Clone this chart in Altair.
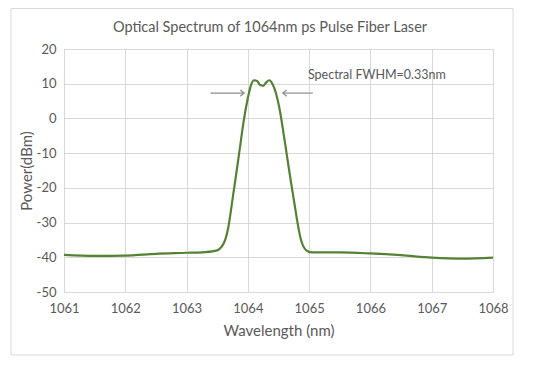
import altair as alt
import pandas as pd

wavelength = [1061.0, 1061.5, 1062.0, 1062.5, 1063.0, 1063.3, 1063.5, 1063.57, 1063.63, 1063.68,
              1063.72, 1063.76, 1063.81, 1063.87, 1063.93, 1063.99, 1064.05, 1064.10, 1064.15,
              1064.20, 1064.25, 1064.30, 1064.35, 1064.40, 1064.46, 1064.52, 1064.58, 1064.64,
              1064.70, 1064.76, 1064.81, 1064.86, 1064.91, 1064.97, 1065.05, 1065.5, 1066.0,
              1066.5, 1067.0, 1067.5, 1068.0]
power = [-39.3, -39.6, -39.5, -39.0, -38.7, -38.5, -38.0, -37.0, -35.0, -31.5,
         -27.0, -22.0, -16.0, -8.5, -1.0, 5.0, 9.5, 11.0, 10.8,
         9.6, 9.4, 10.4, 11.0, 10.0, 7.2, 2.5, -4.0, -11.0,
         -18.0, -24.5, -30.0, -34.5, -37.0, -38.2, -38.6, -38.6, -38.9,
         -39.4, -40.1, -40.4, -40.1]

x_ticks = [1061, 1062, 1063, 1064, 1065, 1066, 1067, 1068]
y_ticks = [-50, -40, -30, -20, -10, 0, 10, 20]

arrow_x = [1063.39, 1065.06]
arrow_x2 = [1063.94, 1064.57]
arrow_y = [7.3, 7.3]
arrow_angle = [0, 180]

label_text = ["Spectral FWHM=0.33nm"]
label_x = [1064.98]
label_y = [12.4]

title_text = ["Optical Spectrum of 1064nm ps Pulse Fiber Laser"]

FONT = "Lato"
GRAY = "#595959"

df = pd.DataFrame({"w": wavelength, "p": power})
arrows = pd.DataFrame({"x": arrow_x, "x2": arrow_x2, "y": arrow_y, "a": arrow_angle})
labels = pd.DataFrame({"t": label_text, "x": label_x, "y": label_y})
titles = pd.DataFrame({"t": title_text})

xs = alt.Scale(domain=[1061, 1068], nice=False, zero=False)
ys = alt.Scale(domain=[-50, 20], nice=False, zero=False)

border = alt.Chart(pd.DataFrame({"k": [0]})).mark_rect(
    fillOpacity=0, stroke="#d9d9d9", strokeWidth=1, clip=False
).encode(
    x=alt.value(-53), x2=alt.value(449), y=alt.value(-40.5), y2=alt.value(306)
)

title = alt.Chart(titles).mark_text(
    align="center", baseline="middle", font=FONT, fontSize=14.5, color=GRAY
).encode(x=alt.value(206), y=alt.value(-21), text="t:N")

common_axis = dict(grid=True, gridColor="#d9d9d9", ticks=False, tickCount=12,
                   labelFont=FONT, labelFontSize=13, labelColor=GRAY,
                   labelOverlap=False, labelFlush=False,
                   labelExpr="datum.value + ''",
                   titleFont=FONT, titleFontSize=15, titleColor=GRAY,
                   titleFontWeight="normal")

line = alt.Chart(df).mark_line(
    color="#548235", strokeWidth=2.2, interpolate="monotone"
).encode(
    x=alt.X("w:Q", scale=xs,
            axis=alt.Axis(values=x_ticks, title="Wavelength (nm)", labelPadding=10,
                          domainColor="#d9d9d9", titlePadding=8, **common_axis)),
    y=alt.Y("p:Q", scale=ys,
            axis=alt.Axis(values=y_ticks, title="Power(dBm)", labelPadding=8,
                          domain=False, titlePadding=2, **common_axis)),
)

shafts = alt.Chart(arrows).mark_rule(color="#8c8c8c", strokeWidth=1.2).encode(
    x="x:Q", x2="x2:Q", y="y:Q"
)

heads = alt.Chart(arrows).mark_point(
    shape="M-1,-0.8L0,0L-1,0.8", filled=False, color="#8c8c8c", strokeWidth=1.2,
    size=60, opacity=1
).encode(
    x="x2:Q", y="y:Q", angle=alt.Angle("a:Q", scale=None)
)

text = alt.Chart(labels).mark_text(
    align="left", baseline="middle", font=FONT, fontSize=12.5, color=GRAY
).encode(x="x:Q", y="y:Q", text="t:N")

chart = alt.layer(line, border, title, shafts, heads, text).properties(
    width=429, height=243,
    padding={"left": 56, "top": 41, "right": 25, "bottom": 65},
    autosize=alt.AutoSizeParams(type="none"),
).configure_view(stroke=None).configure(background="white")

chart.save("out.html", embed_options={"renderer": "svg", "actions": False})
